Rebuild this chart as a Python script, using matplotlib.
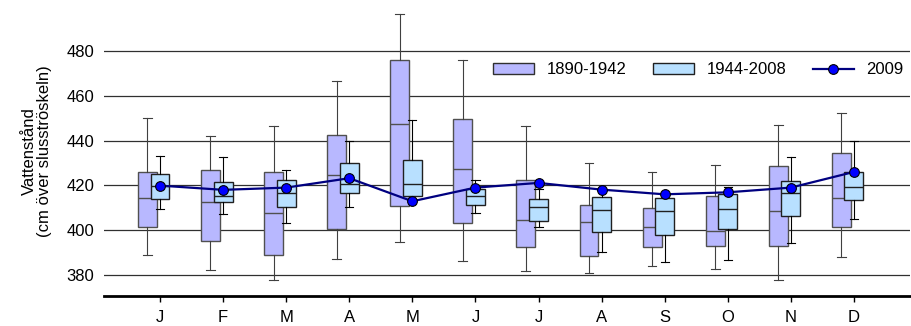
import matplotlib
matplotlib.use('Agg')
import matplotlib.pyplot as plt
from matplotlib.patches import Patch
from matplotlib.lines import Line2D
import numpy as np

plt.rcParams['font.family'] = ['Liberation Sans', 'DejaVu Sans']

months = ['J', 'F', 'M', 'A', 'M', 'J', 'J', 'A', 'S', 'O', 'N', 'D']

# 1890-1942: whisker low, q1, median, q3, whisker high
old_lo = [388.8, 382.2, 377.8, 387.3, 394.9, 386.3, 381.8, 380.8, 383.9, 382.7, 377.9, 387.9]
old_q1 = [401.4, 395.0, 388.9, 400.4, 410.9, 403.1, 392.5, 388.5, 392.4, 392.9, 392.9, 401.4]
old_med = [414.5, 412.6, 407.5, 424.6, 447.5, 427.5, 404.4, 403.5, 401.6, 399.6, 408.6, 414.5]
old_q3 = [425.8, 427.0, 425.8, 442.4, 476.0, 449.5, 422.4, 411.4, 409.8, 415.4, 428.5, 434.3]
old_hi = [450.2, 442.1, 446.7, 466.6, 496.5, 475.8, 446.5, 430.0, 425.8, 429.1, 446.8, 452.3]

# 1944-2008
new_lo = [409.3, 407.4, 403.2, 410.5, 413.5, 407.5, 401.4, 390.1, 385.7, 386.6, 394.3, 405.0]
new_q1 = [413.9, 412.6, 410.4, 416.5, 415.4, 411.1, 404.1, 399.1, 397.9, 400.4, 406.5, 413.5]
new_med = [419.5, 415.4, 416.5, 420.8, 420.6, 415.4, 410.4, 409.2, 408.6, 409.5, 416.6, 419.4]
new_q3 = [425.1, 421.4, 422.3, 430.0, 431.5, 418.3, 413.9, 415.0, 414.4, 416.0, 422.0, 426.0]
new_hi = [433.0, 432.5, 426.9, 439.7, 449.3, 422.4, 418.5, 418.0, 415.5, 419.4, 432.5, 440.0]

# 2009
y2009 = [419.9, 418.0, 419.0, 423.2, 412.9, 419.0, 421.1, 418.1, 416.0, 416.9, 419.0, 426.0]

old_color = '#B8B8FF'
new_color = '#B8E0FF'
fs = 12


def make_stats(lo, q1, med, q3, hi):
    return [dict(whislo=a, q1=b, med=c, q3=d, whishi=e)
            for a, b, c, d, e in zip(lo, q1, med, q3, hi)]


fig = plt.figure(figsize=(9.11, 3.26), dpi=100)
ax = fig.add_axes([0.114, 0.092, 0.885, 0.889])

x = np.arange(len(months))

ax.bxp(make_stats(old_lo, old_q1, old_med, old_q3, old_hi), positions=x - 0.2,
       widths=0.3, capwidths=0.14, showfliers=False, patch_artist=True,
       boxprops=dict(facecolor=old_color, edgecolor='#505050', linewidth=1),
       medianprops=dict(color='#505050', linewidth=1),
       whiskerprops=dict(color='#404040', linewidth=0.8),
       capprops=dict(color='#404040', linewidth=0.8), zorder=3)

ax.bxp(make_stats(new_lo, new_q1, new_med, new_q3, new_hi), positions=x,
       widths=0.3, capwidths=0.13, showfliers=False, patch_artist=True,
       boxprops=dict(facecolor=new_color, edgecolor='#202020', linewidth=1),
       medianprops=dict(color='#202020', linewidth=1),
       whiskerprops=dict(color='black', linewidth=0.8),
       capprops=dict(color='black', linewidth=0.8), zorder=4)

ax.plot(x, y2009, color='#000080', linewidth=1.6, marker='o', markersize=7,
        markerfacecolor='#0000FF', markeredgecolor='black', markeredgewidth=0.8,
        zorder=5)

ax.set_xlim(-0.89, 11.89)
ax.set_ylim(370.6, 500)
ax.set_xticks(x)
ax.set_xticklabels(months, fontsize=fs)
ax.set_yticks([380, 400, 420, 440, 460, 480])
ax.tick_params(axis='y', length=0, pad=7, labelsize=fs)
ax.tick_params(axis='x', length=4, width=1, pad=6, direction='out')
ax.yaxis.grid(True, color='#303030', linewidth=0.9)
ax.set_axisbelow(True)

for s in ['left', 'right', 'top']:
    ax.spines[s].set_visible(False)
ax.spines['bottom'].set_linewidth(2)

ax.set_ylabel('Vattenstånd\n(cm över slusströskeln)', fontsize=fs, labelpad=10,
              linespacing=1.05)

handles = [
    Patch(facecolor=old_color, edgecolor='#303030', linewidth=1),
    Patch(facecolor=new_color, edgecolor='#202020', linewidth=1),
    Line2D([0], [0], color='#000080', linewidth=1.6, marker='o', markersize=7,
           markerfacecolor='#0000FF', markeredgecolor='black', markeredgewidth=0.8),
]
ax.legend(handles, ['1890-1942', '1944-2008', '2009'], ncol=3, frameon=False,
          loc='center right', bbox_to_anchor=(1.0, 0.78), fontsize=fs,
          handlelength=2.45, handleheight=0.7, handletextpad=0.75,
          columnspacing=1.6, borderaxespad=0.0)

fig.savefig('out.png', dpi=100)
